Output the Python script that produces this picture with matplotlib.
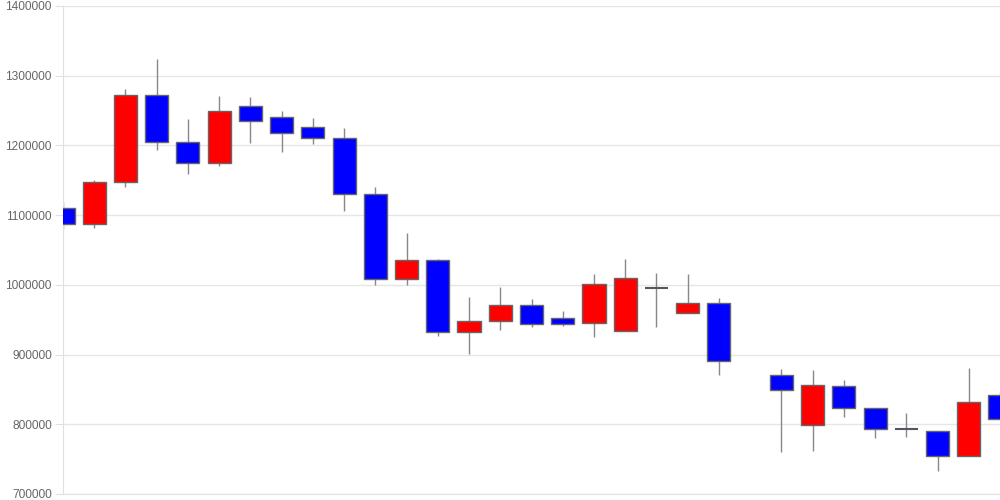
import matplotlib
matplotlib.use("Agg")
import matplotlib.pyplot as plt
import numpy as np

plt.rcParams.update({
    "font.family": ["Liberation Sans", "DejaVu Sans"],
    "font.size": 8.6,
})

# daily OHLC values, index 22 has no data
opens = [1110000, 1087000, 1147000, 1273000, 1205000, 1175000, 1256000, 1241000,
         1226000, 1210000, 1131000, 1008000, 1035000, 932000, 948000, 971000,
         952000, 945000, 934000, 995000, 960000, 974000, np.nan, 870000,
         799000, 855000, 824000, 793000, 791000, 754000, 842000]
closes = [1087000, 1147000, 1273000, 1205000, 1175000, 1250000, 1235000, 1218000,
          1210000, 1131000, 1008000, 1035000, 932000, 948000, 971000, 944000,
          944000, 1001000, 1010000, 994000, 974000, 891000, np.nan, 849000,
          857000, 824000, 793000, 792000, 754000, 832000, 807000]
highs = [1119000, 1150000, 1281000, 1324000, 1238000, 1271000, 1270000, 1250000,
         1240000, 1225000, 1140000, 1075000, 1037000, 983000, 997000, 980000,
         962000, 1016000, 1037000, 1017000, 1015000, 981000, np.nan, 879000,
         878000, 864000, 824000, 816000, 791000, 881000, 847000]
lows = [1080000, 1082000, 1141000, 1193000, 1159000, 1171000, 1203000, 1191000,
        1202000, 1106000, 1000000, 1000000, 926000, 901000, 935000, 940000,
        941000, 925000, 934000, 939000, 960000, 870000, np.nan, 760000,
        762000, 810000, 780000, 782000, 733000, 754000, 807000]

up_color = "#ff0000"
down_color = "#0000ff"
width = 0.74

fig = plt.figure(figsize=(10, 5), dpi=100)
ax = fig.add_axes([0.063, 0.012, 0.937, 0.976])

for i in range(len(opens)):
    o, c, h, l = opens[i], closes[i], highs[i], lows[i]
    if np.isnan(o):
        continue
    ax.vlines(i, l, h, color="#888888", linewidth=1, zorder=2)
    if abs(c - o) < 2000:
        ax.hlines(o, i - width / 2, i + width / 2, color="#555566", linewidth=1.5, zorder=3)
        continue
    color = up_color if c > o else down_color
    ax.bar(i, abs(c - o), bottom=min(o, c), width=width, color=color,
           edgecolor="#666666", linewidth=1, zorder=3)

ax.set_xlim(0, len(opens) - 1)
ax.set_ylim(700000, 1400000)
yticks = np.arange(700000, 1400001, 100000)
ax.set_yticks(yticks)
ax.set_yticklabels([str(v) for v in yticks])
ax.set_xticks([])
ax.grid(axis="y", color="#e6e6e6", linewidth=1)
ax.set_axisbelow(True)
ax.tick_params(axis="y", length=6, color="#e0e0e0", labelcolor="#666666", pad=2)
for s in ["top", "right"]:
    ax.spines[s].set_visible(False)
for s in ["left", "bottom"]:
    ax.spines[s].set_color("#e0e0e0")

fig.savefig("out.png")
